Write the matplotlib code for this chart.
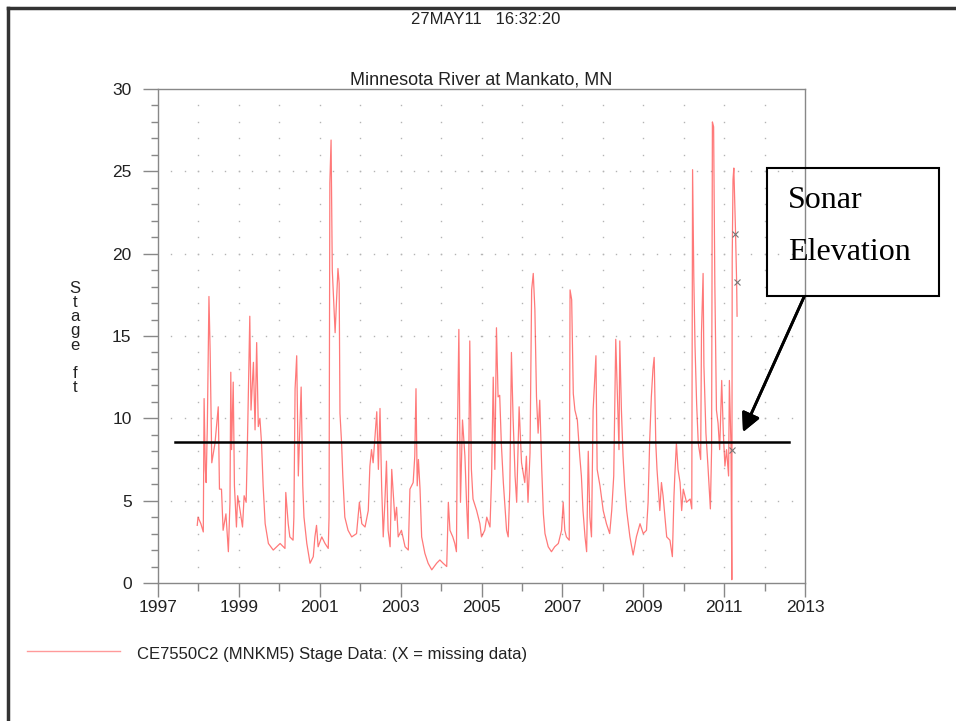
import matplotlib
matplotlib.use("Agg")
import matplotlib.pyplot as plt
import numpy as np
from matplotlib.lines import Line2D
from matplotlib.patches import Rectangle

# Stage record (decimal year, stage in ft)
years = [
    1997.97, 1997.99, 1998.06, 1998.12, 1998.14, 1998.17, 1998.19, 1998.22, 1998.26, 1998.29,
    1998.33, 1998.41, 1998.49, 1998.52, 1998.57, 1998.61, 1998.68, 1998.74, 1998.78, 1998.80,
    1998.82, 1998.86, 1998.89, 1998.94, 1998.97, 1999.03, 1999.09, 1999.13, 1999.18, 1999.21,
    1999.27, 1999.30, 1999.36, 1999.40, 1999.44, 1999.48, 1999.52, 1999.56, 1999.60, 1999.65,
    1999.73, 1999.85, 2000.02, 2000.14, 2000.16, 2000.22, 2000.26, 2000.34, 2000.36, 2000.39,
    2000.43, 2000.47, 2000.54, 2000.58, 2000.61, 2000.68, 2000.76, 2000.84, 2000.88, 2000.92,
    2000.96, 2001.05, 2001.13, 2001.21, 2001.23, 2001.25, 2001.28, 2001.31, 2001.38, 2001.45,
    2001.48, 2001.50, 2001.54, 2001.57, 2001.62, 2001.70, 2001.79, 2001.91, 2001.98, 2002.04,
    2002.12, 2002.20, 2002.24, 2002.28, 2002.32, 2002.41, 2002.45, 2002.49, 2002.53, 2002.57,
    2002.61, 2002.65, 2002.69, 2002.74, 2002.78, 2002.86, 2002.90, 2002.94, 2003.02, 2003.11,
    2003.19, 2003.23, 2003.31, 2003.35, 2003.38, 2003.41, 2003.44, 2003.48, 2003.52, 2003.60,
    2003.68, 2003.77, 2003.89, 2003.97, 2004.05, 2004.14, 2004.18, 2004.22, 2004.29, 2004.34,
    2004.38, 2004.40, 2004.44, 2004.48, 2004.53, 2004.59, 2004.63, 2004.67, 2004.71, 2004.75,
    2004.79, 2004.88, 2004.96, 2005.00, 2005.08, 2005.13, 2005.21, 2005.25, 2005.29, 2005.33,
    2005.37, 2005.41, 2005.45, 2005.49, 2005.54, 2005.62, 2005.66, 2005.70, 2005.74, 2005.78,
    2005.83, 2005.87, 2005.93, 2005.99, 2006.07, 2006.11, 2006.15, 2006.20, 2006.24, 2006.28,
    2006.32, 2006.36, 2006.40, 2006.44, 2006.49, 2006.53, 2006.57, 2006.65, 2006.73, 2006.81,
    2006.90, 2006.98, 2007.02, 2007.06, 2007.10, 2007.17, 2007.19, 2007.23, 2007.27, 2007.31,
    2007.37, 2007.43, 2007.47, 2007.51, 2007.56, 2007.60, 2007.64, 2007.68, 2007.72, 2007.76,
    2007.83, 2007.86, 2007.93, 2008.01, 2008.09, 2008.17, 2008.22, 2008.27, 2008.32, 2008.36,
    2008.40, 2008.42, 2008.46, 2008.50, 2008.54, 2008.59, 2008.67, 2008.75, 2008.83, 2008.92,
    2009.00, 2009.08, 2009.12, 2009.16, 2009.20, 2009.24, 2009.27, 2009.31, 2009.34, 2009.41,
    2009.45, 2009.49, 2009.58, 2009.66, 2009.72, 2009.76, 2009.78, 2009.82, 2009.86, 2009.91,
    2009.95, 2009.99, 2010.07, 2010.16, 2010.20, 2010.22, 2010.25, 2010.28, 2010.32, 2010.36,
    2010.42, 2010.44, 2010.48, 2010.50, 2010.55, 2010.60, 2010.66, 2010.69, 2010.71, 2010.74,
    2010.77, 2010.81, 2010.85, 2010.89, 2010.94, 2010.98, 2011.02, 2011.06, 2011.11, 2011.13,
    2011.17, 2011.19, 2011.20, 2011.22, 2011.24, 2011.28, 2011.31, 2011.32,
]
stage = [
    3.5, 4.0, 3.6, 3.1, 11.2, 6.9, 6.1, 9.5, 17.4, 14.0,
    7.3, 8.5, 10.7, 5.7, 5.7, 3.2, 4.2, 1.9, 4.9, 12.8,
    8.1, 12.2, 5.9, 3.4, 5.3, 4.4, 3.4, 5.3, 4.9, 8.3,
    16.2, 10.5, 13.4, 9.3, 14.6, 9.5, 10.0, 8.5, 5.9, 3.6,
    2.4, 2.0, 2.4, 2.1, 5.5, 3.6, 2.8, 2.6, 4.0, 11.8,
    13.8, 6.5, 11.9, 5.9, 4.0, 2.4, 1.2, 1.6, 2.8, 3.5,
    2.2, 2.8, 2.4, 2.1, 4.0, 24.3, 26.9, 19.0, 15.2, 19.1,
    18.2, 10.3, 8.5, 6.5, 4.0, 3.2, 2.8, 3.0, 4.9, 3.6,
    3.4, 4.4, 7.1, 8.1, 7.3, 10.4, 6.9, 10.6, 5.9, 2.8,
    4.9, 7.4, 3.2, 2.2, 6.9, 3.8, 4.6, 2.8, 3.2, 2.2,
    2.0, 5.7, 6.1, 7.7, 11.8, 5.9, 7.5, 5.7, 2.8, 1.8,
    1.2, 0.8, 1.2, 1.4, 1.2, 1.0, 4.9, 3.2, 2.8, 2.4,
    1.9, 8.1, 15.4, 4.9, 9.9, 7.7, 4.9, 2.7, 14.7, 6.9,
    5.1, 4.4, 3.6, 2.8, 3.2, 4.0, 3.4, 6.5, 12.5, 6.9,
    15.5, 11.3, 11.4, 8.5, 6.1, 3.2, 2.8, 5.7, 14.0, 10.1,
    6.5, 4.9, 10.7, 7.3, 6.1, 7.7, 4.9, 7.9, 17.8, 18.8,
    16.6, 11.3, 9.1, 11.1, 6.9, 4.2, 3.0, 2.2, 1.9, 2.2,
    2.4, 3.2, 4.9, 3.2, 2.8, 2.6, 17.8, 17.2, 11.5, 10.5,
    9.9, 7.7, 6.5, 4.4, 2.8, 1.9, 8.0, 4.0, 2.8, 10.5,
    13.8, 6.9, 5.9, 4.4, 3.6, 3.0, 4.4, 6.5, 14.8, 11.5,
    8.1, 14.7, 10.5, 7.7, 5.9, 4.4, 2.8, 1.7, 2.8, 3.6,
    3.0, 3.2, 4.9, 8.7, 11.3, 13.0, 13.7, 8.5, 6.9, 4.4,
    6.1, 5.3, 2.8, 2.6, 1.6, 5.3, 6.5, 8.5, 6.9, 6.1,
    4.4, 5.7, 4.9, 5.1, 4.5, 25.1, 18.6, 14.4, 10.9, 8.5,
    7.5, 15.2, 18.8, 13.2, 9.1, 7.1, 4.5, 8.1, 28.0, 27.7,
    18.2, 10.5, 9.7, 8.1, 12.3, 9.1, 7.1, 8.1, 6.5, 12.3,
    8.3, 0.2, 19.7, 24.5, 25.2, 21.5, 18.2, 16.2,
]

# missing-data markers
missing_years = [2011.19, 2011.27, 2011.31]
missing_stage = [8.1, 21.2, 18.3]

sonar_elev = 8.55
sonar_span = [1997.42, 2012.60]

x_major = [1997, 1999, 2001, 2003, 2005, 2007, 2009, 2011, 2013]
x_minor = [1998, 2000, 2002, 2004, 2006, 2008, 2010, 2012]
y_major = [0, 5, 10, 15, 20, 25, 30]

W, H = 956, 721
fig = plt.figure(figsize=(W / 100, H / 100), dpi=100)


def fx(px):
    return px / W


def fy(py):
    return 1 - py / H


ax = fig.add_axes([fx(158), fy(583), fx(805) - fx(158), fy(89) - fy(583)])
ax.set_xlim(1997, 2013)
ax.set_ylim(0, 30)

# dotted grid: every 1/3 year along the 5-ft rows, every ft up the year columns
gx = np.arange(1997 + 1 / 3, 2012.7, 1 / 3)
for yv in [5, 10, 15, 20, 25]:
    ax.plot(gx, np.full(len(gx), yv), ls="none", marker="s", ms=1.0,
            color="#b4b4b4", mec="none", zorder=1)
gy = np.arange(1, 30)
for xv in range(1998, 2013):
    ax.plot(np.full(len(gy), xv), gy, ls="none", marker="s", ms=1.0,
            color="#b4b4b4", mec="none", zorder=1)

ax.plot(years, stage, color="#ff2020", lw=0.9, alpha=0.6, zorder=3)
ax.plot(missing_years, missing_stage, ls="none", marker="x", ms=4,
        mew=0.8, color="#777777", zorder=4)
ax.plot(sonar_span, [sonar_elev, sonar_elev], color="black", lw=1.8, zorder=5)

for s in ax.spines.values():
    s.set_color("#888888")
    s.set_linewidth(1.0)

ax.set_xticks(x_major)
ax.set_xticks(x_minor, minor=True)
ax.set_yticks(y_major)
ax.set_yticks(np.arange(1, 30), minor=True)
ax.tick_params(axis="both", which="both", direction="out", color="#888888", width=1.0,
               labelcolor="#222222", labelsize=12.5, top=False, right=False)
ax.tick_params(axis="x", which="major", length=10, pad=2)
ax.tick_params(axis="x", which="minor", length=6)
ax.tick_params(axis="y", which="major", length=11, pad=8)
ax.tick_params(axis="y", which="minor", length=5)
for lab in ax.get_xticklabels() + ax.get_yticklabels():
    lab.set_family(["Liberation Sans", "DejaVu Sans"])

fam = ["Liberation Sans Narrow", "Liberation Sans", "DejaVu Sans"]
fig.text(fx(486), fy(20), "27MAY11   16:32:20", ha="center", va="center",
         fontsize=12, family=fam, color="#222222")
fig.text(fx(481), fy(80), "Minnesota River at Mankato, MN", ha="center", va="center",
         fontsize=13, family=fam, color="#222222")
fig.text(fx(75), fy(338), "S\nt\na\ng\ne\n\nf\nt", ha="center", va="center",
         fontsize=12, linespacing=0.93, family=["Liberation Sans", "DejaVu Sans"],
         color="#222222")

# legend line + label
fig.add_artist(Line2D([fx(27), fx(120)], [fy(651), fy(651)], color="#ff9a9a", lw=1.0))
fig.text(fx(137), fy(655), "CE7550C2 (MNKM5) Stage Data: (X = missing data)",
         ha="left", va="center", fontsize=12, family=fam, color="#222222")

# page frame (left and top edges)
fig.add_artist(Line2D([fx(8), fx(8)], [0, fy(8)], color="#333333", lw=2.5))
fig.add_artist(Line2D([fx(8), 1], [fy(8), fy(8)], color="#333333", lw=2.5))

# callout box
fig.add_artist(Rectangle((fx(767), fy(296)), fx(939) - fx(767), fy(168) - fy(296),
                         fill=False, edgecolor="black", lw=1.5, transform=fig.transFigure))
fig.text(fx(788), fy(200), "Sonar", ha="left", va="center", fontsize=23,
         family=["Liberation Serif", "DejaVu Serif"], color="black")
fig.text(fx(788), fy(252), "Elevation", ha="left", va="center", fontsize=23,
         family=["Liberation Serif", "DejaVu Serif"], color="black")
fig.add_artist(plt.annotate("", xy=(fx(743), fy(432)), xytext=(fx(804), fy(297)),
                            xycoords="figure fraction", textcoords="figure fraction",
                            arrowprops=dict(arrowstyle="-|>", color="black", lw=2,
                                            mutation_scale=28, shrinkA=0, shrinkB=0)))

fig.savefig("out.png", dpi=100)
